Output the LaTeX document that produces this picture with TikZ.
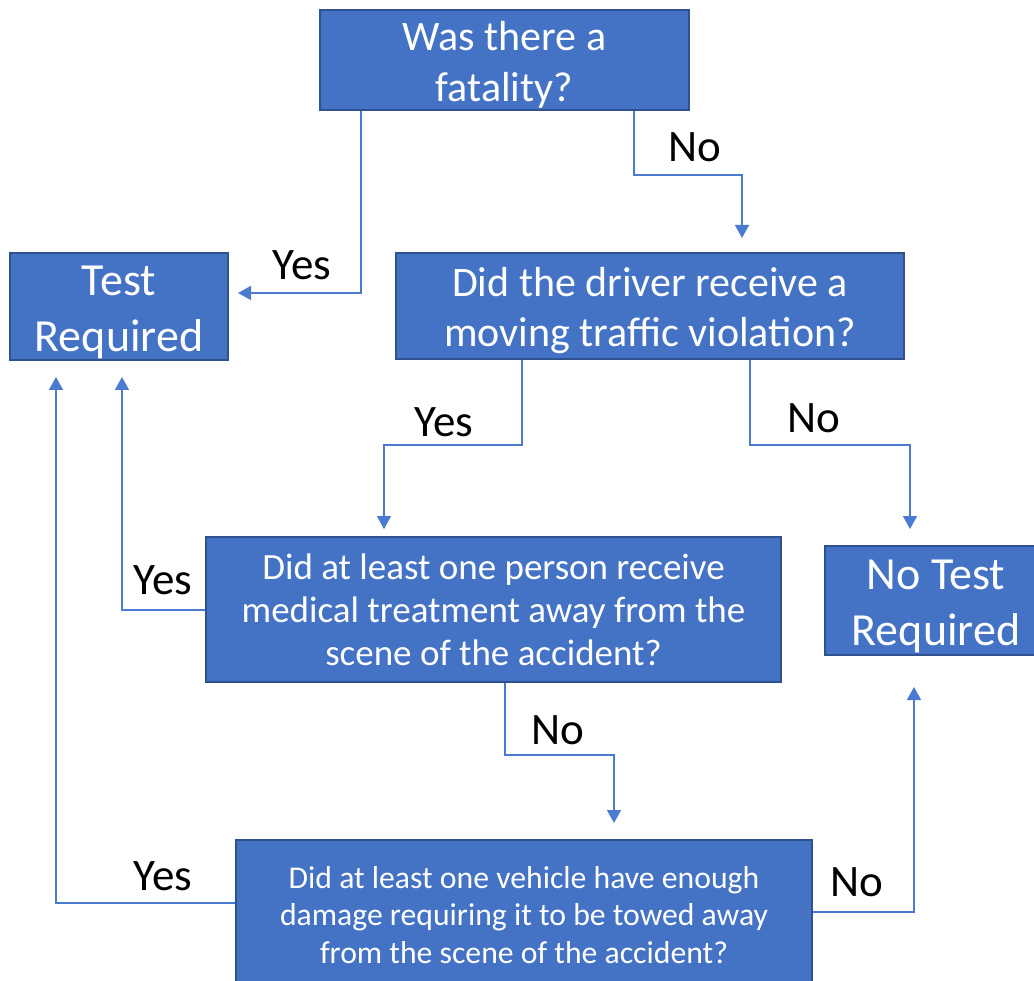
\documentclass[tikz,border=0pt]{standalone}
\usepackage{fontspec}
\setmainfont{Carlito}
\usetikzlibrary{arrows.meta}
\definecolor{boxfill}{HTML}{4472C4}
\definecolor{boxline}{HTML}{2F528F}
\definecolor{conn}{HTML}{4A7BD0}
\tikzset{
  qbox/.style={draw=boxline, line width=2pt, fill=boxfill, inner sep=0pt},
  qtext/.style={text=white, align=center, inner sep=0pt},
  conn/.style={draw=conn, line width=1.5pt, -{Triangle[width=14pt,length=13pt]}},
  lbl/.style={font=\fontsize{45}{52}\selectfont, text=black, inner sep=0pt},
}
\begin{document}
\begin{tikzpicture}[x=1pt,y=-1pt]
\useasboundingbox (0,0) rectangle (1034,981);
% boxes
\node[qbox, minimum width=369pt, minimum height=100pt] (fat) at (504.5,60) {};
\node[qbox, minimum width=218pt, minimum height=107pt] (test) at (119,306.5) {};
\node[qbox, minimum width=508pt, minimum height=106pt] (drv) at (650,306) {};
\node[qbox, minimum width=222pt, minimum height=109pt] (notest) at (936,600) {};
\node[qbox, minimum width=575pt, minimum height=145pt] (med) at (493.5,609.5) {};
\node[qbox, minimum width=576pt, minimum height=150pt] (veh) at (524,915) {};
% box texts
\node[qtext, font=\fontsize{42}{51}\selectfont] (fatT) at (504.5,65) {Was there a\\fatality?};
\node[qtext, font=\fontsize{46}{56}\selectfont] (testT) at (119,312) {Test\\Required};
\node[qtext, font=\fontsize{42}{50}\selectfont] (drvT) at (650,311) {Did the driver receive a\\moving traffic violation?};
\node[qtext, font=\fontsize{46}{56}\selectfont] (notestT) at (936,606) {No Test\\Required};
\node[qtext, font=\fontsize{37}{43}\selectfont] (medT) at (493.5,609.5) {Did at least one person receive\\medical treatment away from the\\scene of the accident?};
\node[qtext, font=\fontsize{31.7}{37.5}\selectfont] (vehT) at (524,915) {Did at least one vehicle have enough\\damage requiring it to be towed away\\from the scene of the accident?};
% coordinates for connector ends
\coordinate (a1) at (238,293);
\coordinate (a2) at (742,238);
\coordinate (a3) at (384,529);
\coordinate (a4) at (910,529);
\coordinate (a5) at (122,377);
\coordinate (a6) at (614,823);
\coordinate (a7) at (56,377);
\coordinate (a8) at (914,687);
% connectors
\draw[conn] (fat.south -| 361,0) |- (a1);
\draw[conn] (fat.south -| 634,0) -- (634,175) -| (a2);
\draw[conn] (drv.south -| 522,0) -- (522,445) -| (a3);
\draw[conn] (drv.south -| 750,0) -- (750,445) -| (a4);
\draw[conn] (med.west |- 0,610) -| (a5);
\draw[conn] (med.south -| 505,0) -- (505,755) -| (a6);
\draw[conn] (veh.west |- 0,903) -| (a7);
\draw[conn] (veh.east |- 0,912) -| (a8);
% labels
\node[lbl] (l1) at (302,265) {Yes};
\node[lbl] (l2) at (695,147) {No};
\node[lbl] (l3) at (444,422) {Yes};
\node[lbl] (l4) at (814,418) {No};
\node[lbl] (l5) at (163,580) {Yes};
\node[lbl] (l6) at (558,730) {No};
\node[lbl] (l7) at (163,876) {Yes};
\node[lbl] (l8) at (857,882) {No};
\end{tikzpicture}
\end{document}
